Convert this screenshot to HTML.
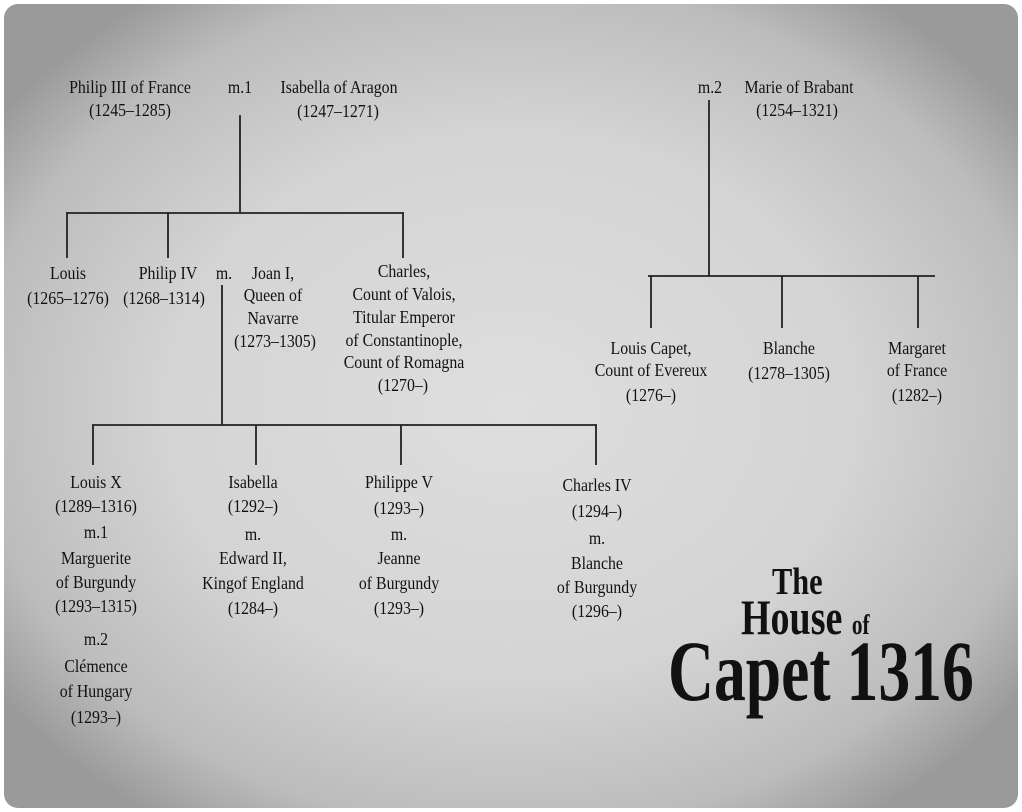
<!DOCTYPE html>
<html><head><meta charset="utf-8"><style>
html,body{margin:0;padding:0}
body{width:1022px;height:812px;position:relative;overflow:hidden;background:#fff;font-family:"Liberation Serif",serif;color:#111}
.bg{position:absolute;left:4px;top:4px;width:1014px;height:804px;border-radius:14px;
background:radial-gradient(ellipse 62% 62% at 50% 50%,#dedede 0%,#d4d4d4 55%,#bcbcbc 85%,#9a9a9a 100%)}
.t{position:absolute;transform:translate(-50%,-50%) scaleX(0.88);white-space:nowrap;font-size:18px;line-height:1}
svg{position:absolute;left:0;top:0}
.big{position:absolute;font-family:"Liberation Serif",serif;font-weight:bold;color:#111;white-space:nowrap;line-height:1}
</style></head><body>
<div class="bg"></div>
<svg width="1022" height="812" stroke="#222" stroke-width="1.8" fill="none">
<path d="M240 115V213M66 213H404M67 213V258M168 213V258M403 213V258"/>
<path d="M222 285V425M92 425H597M93 425V465M256 425V465M401 425V465M596 425V465"/>
<path d="M709 100V276M648 276H935M651 276V328M782 276V328M918 276V328"/>
</svg>
<div class="t" style="left:130px;top:87px">Philip III of France</div>
<div class="t" style="left:130px;top:110px">(1245–1285)</div>
<div class="t" style="left:240px;top:87px">m.1</div>
<div class="t" style="left:339px;top:87px">Isabella of Aragon</div>
<div class="t" style="left:338px;top:111px">(1247–1271)</div>
<div class="t" style="left:710px;top:87px">m.2</div>
<div class="t" style="left:799px;top:87px">Marie of Brabant</div>
<div class="t" style="left:797px;top:110px">(1254–1321)</div>

<div class="t" style="left:68px;top:273px">Louis</div>
<div class="t" style="left:68px;top:298px">(1265–1276)</div>
<div class="t" style="left:168px;top:273px">Philip IV</div>
<div class="t" style="left:164px;top:298px">(1268–1314)</div>
<div class="t" style="left:224px;top:273px">m.</div>
<div class="t" style="left:273px;top:273px">Joan I,</div>
<div class="t" style="left:273px;top:295px">Queen of</div>
<div class="t" style="left:273px;top:318px">Navarre</div>
<div class="t" style="left:275px;top:341px">(1273–1305)</div>
<div class="t" style="left:404px;top:271px">Charles,</div>
<div class="t" style="left:404px;top:294px">Count of Valois,</div>
<div class="t" style="left:404px;top:317px">Titular Emperor</div>
<div class="t" style="left:404px;top:340px">of Constantinople,</div>
<div class="t" style="left:404px;top:362px">Count of Romagna</div>
<div class="t" style="left:403px;top:385px">(1270–)</div>

<div class="t" style="left:651px;top:348px">Louis Capet,</div>
<div class="t" style="left:651px;top:370px">Count of Evereux</div>
<div class="t" style="left:651px;top:395px">(1276–)</div>
<div class="t" style="left:789px;top:348px">Blanche</div>
<div class="t" style="left:789px;top:373px">(1278–1305)</div>
<div class="t" style="left:917px;top:348px">Margaret</div>
<div class="t" style="left:917px;top:370px">of France</div>
<div class="t" style="left:917px;top:395px">(1282–)</div>

<div class="t" style="left:96px;top:482px">Louis X</div>
<div class="t" style="left:96px;top:506px">(1289–1316)</div>
<div class="t" style="left:96px;top:532px">m.1</div>
<div class="t" style="left:96px;top:558px">Marguerite</div>
<div class="t" style="left:96px;top:582px">of Burgundy</div>
<div class="t" style="left:96px;top:606px">(1293–1315)</div>
<div class="t" style="left:96px;top:639px">m.2</div>
<div class="t" style="left:96px;top:666px">Clémence</div>
<div class="t" style="left:96px;top:691px">of Hungary</div>
<div class="t" style="left:96px;top:717px">(1293–)</div>

<div class="t" style="left:253px;top:482px">Isabella</div>
<div class="t" style="left:253px;top:506px">(1292–)</div>
<div class="t" style="left:253px;top:534px">m.</div>
<div class="t" style="left:253px;top:558px">Edward II,</div>
<div class="t" style="left:253px;top:583px">Kingof England</div>
<div class="t" style="left:253px;top:608px">(1284–)</div>

<div class="t" style="left:399px;top:482px">Philippe V</div>
<div class="t" style="left:399px;top:508px">(1293–)</div>
<div class="t" style="left:399px;top:534px">m.</div>
<div class="t" style="left:399px;top:558px">Jeanne</div>
<div class="t" style="left:399px;top:583px">of Burgundy</div>
<div class="t" style="left:399px;top:608px">(1293–)</div>

<div class="t" style="left:597px;top:485px">Charles IV</div>
<div class="t" style="left:597px;top:511px">(1294–)</div>
<div class="t" style="left:597px;top:538px">m.</div>
<div class="t" style="left:597px;top:563px">Blanche</div>
<div class="t" style="left:597px;top:587px">of Burgundy</div>
<div class="t" style="left:597px;top:611px">(1296–)</div>

<div class="big" style="left:772px;top:563px;font-size:38px;transform:scaleX(0.8);transform-origin:left">The</div>
<div class="big" style="left:741px;top:592px;font-size:50px;transform:scaleX(0.76);transform-origin:left">House <span style="font-size:28px">of</span></div>
<div class="big" style="left:668px;top:628px;font-size:86px;transform:scaleX(0.74);transform-origin:left">Capet 1316</div>
</body></html>
